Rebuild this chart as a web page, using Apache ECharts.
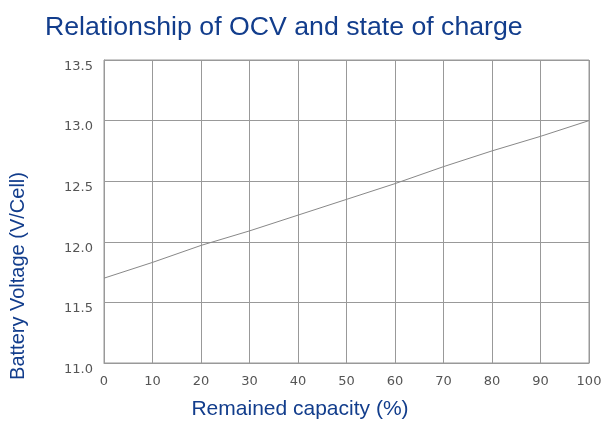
<!DOCTYPE html>
<html>
<head>
<meta charset="utf-8">
<script src="https://cdn.jsdelivr.net/npm/echarts@6/dist/echarts.min.js"></script>
<style>html,body{margin:0;padding:0;background:#fff;}#c{width:608px;height:421px;}</style>
</head>
<body>
<div id="c"></div>
<script>
const capacity = [0, 10, 20, 30, 40, 50, 60, 70, 80, 90, 100];
const voltage = [11.70, 11.83, 11.97, 12.09, 12.22, 12.35, 12.48, 12.62, 12.75, 12.87, 13.00];
const yTicks = ['11.0', '11.5', '12.0', '12.5', '13.0', '13.5'];
const titleText = 'Relationship of OCV and state of charge';
const xName = 'Remained capacity (%)';
const yName = 'Battery Voltage (V/Cell)';

const chart = echarts.init(document.getElementById('c'), null, {renderer: 'canvas'});
const blue = '#123d8c';
const tickFont = '"DejaVu Sans", sans-serif';
chart.setOption({
  animation: false,
  backgroundColor: '#fff',
  title: {
    text: titleText, left: 40, top: 9,
    textStyle: {fontFamily: '"Liberation Sans", Arial, sans-serif', fontSize: 26.7, fontWeight: 'normal', color: blue}
  },
  grid: {left: 104, right: 19, top: 60, bottom: 58, show: true, borderColor: '#999', borderWidth: 1},
  xAxis: {
    type: 'value', min: 0, max: 100, interval: 10,
    axisLine: {show: true, lineStyle: {color: '#999'}},
    axisTick: {show: false},
    splitLine: {show: true, lineStyle: {color: '#999', width: 1}},
    axisLabel: {margin: 12, color: '#555', fontFamily: tickFont, fontSize: 13}
  },
  yAxis: {
    type: 'value', min: 11.0, max: 13.5, interval: 0.5,
    axisLine: {show: true, lineStyle: {color: '#999'}},
    axisTick: {show: false},
    splitLine: {show: true, lineStyle: {color: '#999', width: 1}},
    axisLabel: {
      margin: 11, color: '#555', fontFamily: tickFont, fontSize: 13, verticalAlign: 'top',
      formatter: v => yTicks.find(t => Math.abs(parseFloat(t) - v) < 1e-6) || ''
    }
  },
  graphic: [
    {type: 'text', x: 300, y: 409, style: {text: xName, align: 'center', verticalAlign: 'middle', fontFamily: '"Liberation Sans", Arial, sans-serif', fontSize: 21, fill: blue}},
    {type: 'text', x: 18, y: 276, rotation: Math.PI / 2, style: {text: yName, align: 'center', verticalAlign: 'middle', fontFamily: '"Liberation Sans", Arial, sans-serif', fontSize: 20, fill: blue}}
  ],
  series: [{
    type: 'line',
    data: capacity.map((c, i) => [c, voltage[i]]),
    showSymbol: false,
    lineStyle: {color: '#888', width: 1}
  }]
});
</script>
</body>
</html>
